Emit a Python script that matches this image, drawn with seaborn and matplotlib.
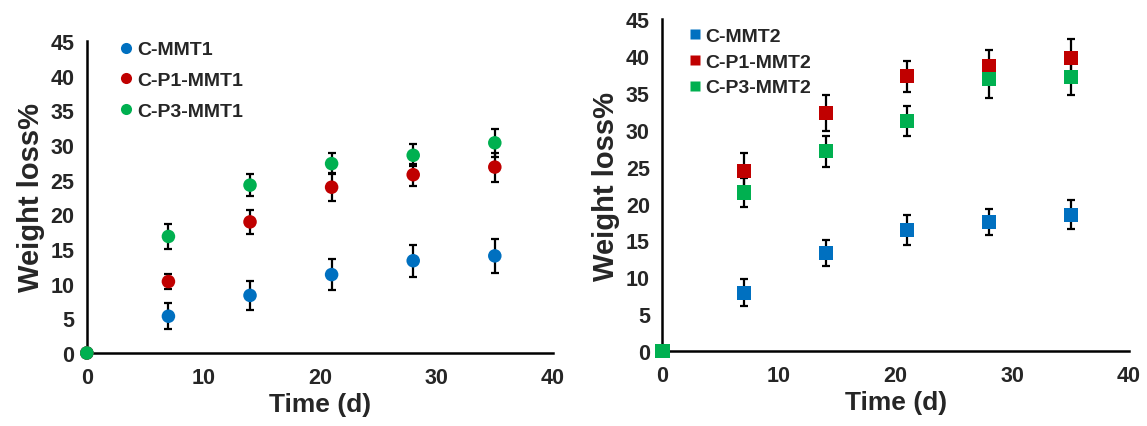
import matplotlib
matplotlib.use("Agg")
import matplotlib.pyplot as plt
import seaborn as sns
import pandas as pd
import numpy as np
from matplotlib.ticker import MultipleLocator

sns.set_style("white")
plt.rcParams['font.family'] = ['Liberation Sans', 'DejaVu Sans']
plt.rcParams['font.weight'] = 'bold'

days = [0, 7, 14, 21, 28, 35]

# Panel 1 (circles)
series1 = ["C-MMT1", "C-P1-MMT1", "C-P3-MMT1"]
mmt1 = [0, 5.3, 8.3, 11.3, 13.3, 14.0]
mmt1_err = [0, 1.9, 2.1, 2.2, 2.3, 2.4]
p1_mmt1 = [0, 10.3, 18.9, 23.9, 25.7, 26.8]
p1_mmt1_err = [0, 1.1, 1.7, 2.0, 1.6, 2.1]
p3_mmt1 = [0, 16.8, 24.2, 27.3, 28.5, 30.3]
p3_mmt1_err = [0, 1.8, 1.6, 1.5, 1.6, 2.0]

# Panel 2 (squares)
series2 = ["C-MMT2", "C-P1-MMT2", "C-P3-MMT2"]
mmt2 = [0, 7.9, 13.3, 16.4, 17.5, 18.5]
mmt2_err = [0, 1.8, 1.8, 2.0, 1.8, 2.0]
p1_mmt2 = [0, 24.4, 32.3, 37.3, 38.7, 39.8]
p1_mmt2_err = [0, 2.5, 2.5, 2.1, 2.2, 2.6]
p3_mmt2 = [0, 21.5, 27.1, 31.2, 36.9, 37.2]
p3_mmt2_err = [0, 2.0, 2.1, 2.0, 2.5, 2.5]

colors = ["#0070C0", "#C00000", "#00B050"]

fig = plt.figure(figsize=(11.47, 4.27), dpi=100)
ax1 = fig.add_axes([0.0757, 0.171, 0.4065, 0.731])
ax2 = fig.add_axes([0.5775, 0.176, 0.4068, 0.776])


def panel(ax, names, vals, errs, marker, ms, legend_y, legend_spacing, lms):
    frames = []
    for n, v, e in zip(names, vals, errs):
        frames.append(pd.DataFrame({"Time": days, "Loss": v, "err": e, "Series": n}))
    df = pd.concat(frames, ignore_index=True)
    for n, c in zip(names, colors):
        sub = df[df.Series == n]
        sub = sub[sub.err > 0]
        ax.errorbar(sub.Time, sub.Loss, yerr=sub.err, fmt='none', ecolor='black',
                    elinewidth=1.6, capsize=3.2, capthick=1.6, zorder=2)
    sns.scatterplot(data=df, x="Time", y="Loss", hue="Series", palette=colors,
                    marker=marker, s=ms, edgecolor='none', linewidth=0, ax=ax,
                    zorder=3, clip_on=False, legend=False)
    ax.set_xlim(0, 40)
    ax.set_ylim(0, 45)
    ax.xaxis.set_major_locator(MultipleLocator(10))
    ax.xaxis.set_minor_locator(MultipleLocator(2))
    ax.yaxis.set_major_locator(MultipleLocator(5))
    for s in ["top", "right"]:
        ax.spines[s].set_visible(False)
    for s in ["left", "bottom"]:
        ax.spines[s].set_color("black")
        ax.spines[s].set_linewidth(1.8)
    ax.tick_params(axis='x', which='both', direction='in', length=5, width=1.6,
                   color='black', labelsize=15.5, pad=10)
    ax.tick_params(axis='y', which='major', direction='in', length=5, width=1.6,
                   color='black', labelsize=15.5, pad=9)
    ax.tick_params(axis='x', which='major', length=6)
    ax.set_xlabel("Time (d)", fontsize=19, fontweight='bold', labelpad=3)
    ax.set_ylabel("Weight loss%", fontsize=21, fontweight='bold', labelpad=4)
    for lab in ax.get_xticklabels() + ax.get_yticklabels():
        lab.set_fontweight('bold')
    # legend
    handles = [plt.Line2D([], [], linestyle='none', marker=marker, markersize=lms,
                          markerfacecolor=c, markeredgecolor='none') for c in colors]
    leg = ax.legend(handles, names, loc='upper left', bbox_to_anchor=legend_y,
                    frameon=False, fontsize=14, handlelength=0.6,
                    handletextpad=0.25, labelspacing=legend_spacing, borderaxespad=0)
    for t in leg.get_texts():
        t.set_fontweight('bold')


panel(ax1, series1, [mmt1, p1_mmt1, p3_mmt1], [mmt1_err, p1_mmt1_err, p3_mmt1_err],
      'o', 95, (0.055, 1.025), 0.68, 8)
panel(ax2, series2, [mmt2, p1_mmt2, p3_mmt2], [mmt2_err, p1_mmt2_err, p3_mmt2_err],
      's', 105, (0.04, 1.0), 0.42, 7.5)

fig.savefig("out.png", dpi=100)
